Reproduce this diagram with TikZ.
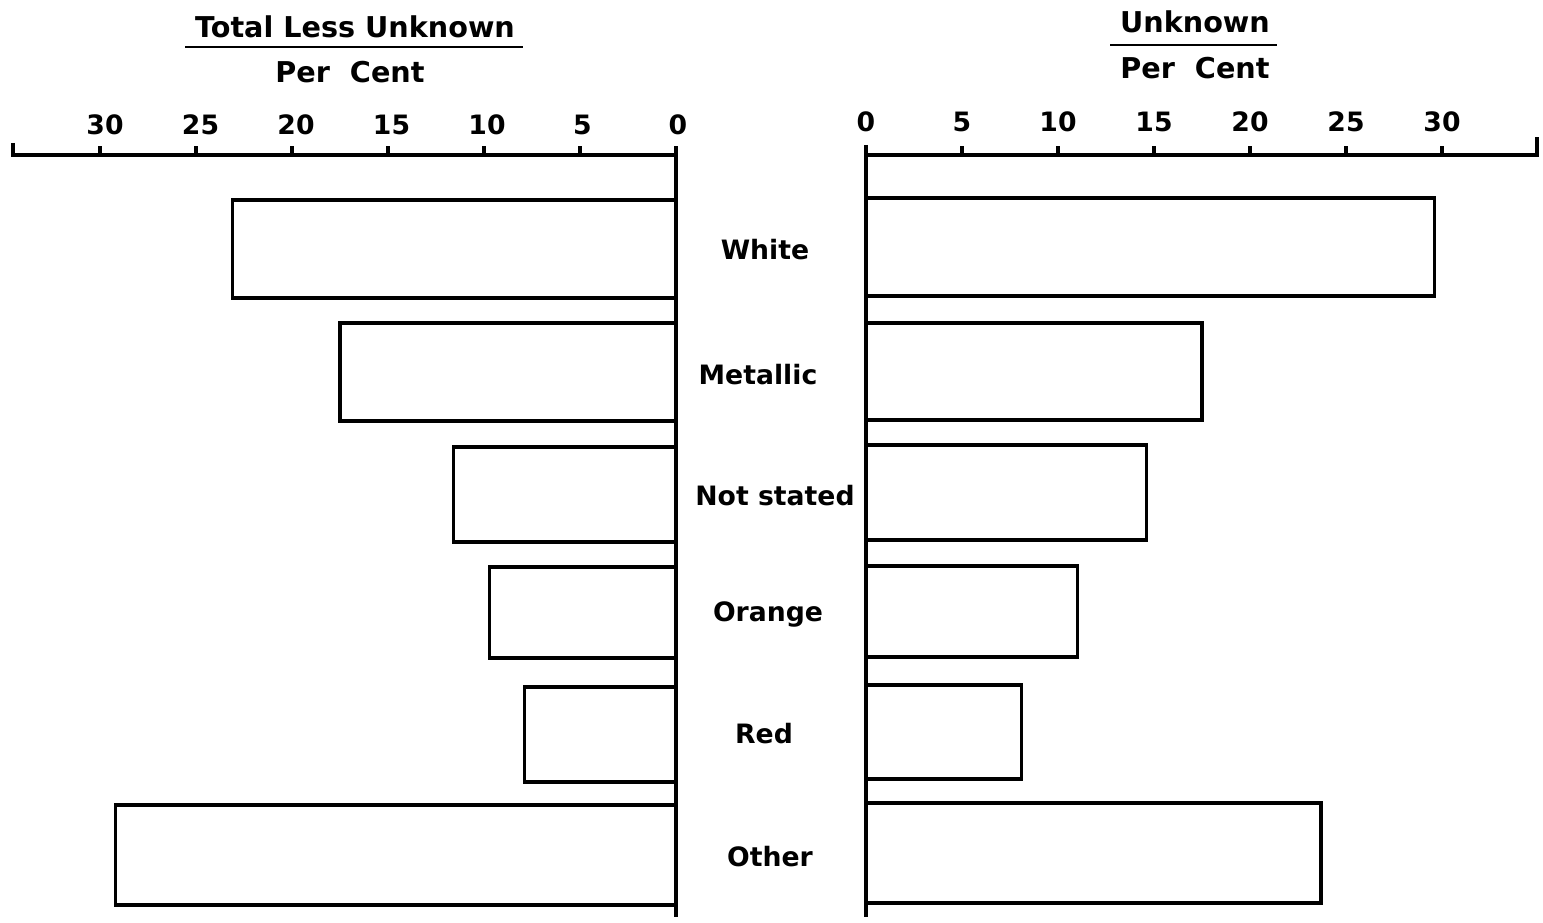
\documentclass[tikz,border=0pt]{standalone}
\usepackage{fontspec}
\setmainfont{DejaVu Sans}
\begin{document}
\begin{tikzpicture}[x=0.75pt,y=-0.75pt,line width=2.4pt,
  lbl/.style={font=\bfseries\fontsize{20}{24}\selectfont,inner sep=0pt},
  ttl/.style={font=\bfseries\fontsize{21.5}{26}\selectfont,inner sep=0pt},
  bar/.style={draw,line width=2.4pt},
  axisline/.style={line width=2.4pt}]
\useasboundingbox (0,0) rectangle (1543,923);
% ---- left panel
\node[ttl] (tl) at (355,27) {Total Less Unknown};
\draw[line width=2pt] (185,47) -- (523,47);
\node[ttl] (pl) at (350,72) {Per\ \ Cent};
\coordinate (la) at (13,143);
\coordinate (lb) at (13,155);
\coordinate (lc) at (676,155);
\coordinate (ld) at (676,917);
\draw[axisline] (la) -- (lb) -- (lc) -- (ld);
\foreach \v in {0,5,...,30}{
  \draw[axisline] (676-\v*19.2,155) -- ++(0,-9);
  \node[lbl,name=ln\v] at (678-\v*19.1,125) {\v};
}
\foreach \n/\v/\a/\b in {lw/23.1/200/298, lm/17.5/323/421, ls/11.6/447/542, lo/9.7/567/658, lr/7.9/687/782, lx/29.2/805/905}{
  \draw[bar] (676,\a) -- (676-\v*19.2,\a) -- (676-\v*19.2,\b) -- (676,\b);
}
% ---- right panel
\node[ttl] (tr) at (1195,22) {Unknown};
\draw[line width=2pt] (1110,45) -- (1277,45);
\node[ttl] (pr) at (1195,68) {Per\ \ Cent};
\coordinate (ra) at (866,145);
\coordinate (rb) at (866,917);
\coordinate (rc) at (866,155);
\coordinate (rd) at (1537,155);
\coordinate (re) at (1537,137);
\draw[axisline] (ra) -- (rb);
\draw[axisline] (rc) -- (rd) -- (re);
\foreach \v in {0,5,...,30}{
  \draw[axisline] (866+\v*19.2,155) -- ++(0,-9);
  \node[lbl,name=rn\v] at (866+\v*19.2,122) {\v};
}
\foreach \n/\v/\a/\b in {rw/29.6/198/296, rm/17.5/323/420, rs/14.6/445/540, ro/11.0/566/657, rr/8.1/685/779, rx/23.7/803/903}{
  \draw[bar] (866,\a) -- (866+\v*19.2,\a) -- (866+\v*19.2,\b) -- (866,\b);
}
% ---- category labels
\node[lbl] (cw) at (765,250) {White};
\node[lbl] (cm) at (758,375) {Metallic};
\node[lbl] (cs) at (775,496) {Not stated};
\node[lbl] (co) at (768,614) {Orange};
\node[lbl] (cr) at (764,734) {Red};
\node[lbl] (cx) at (770,857) {Other};
\end{tikzpicture}
\end{document}
